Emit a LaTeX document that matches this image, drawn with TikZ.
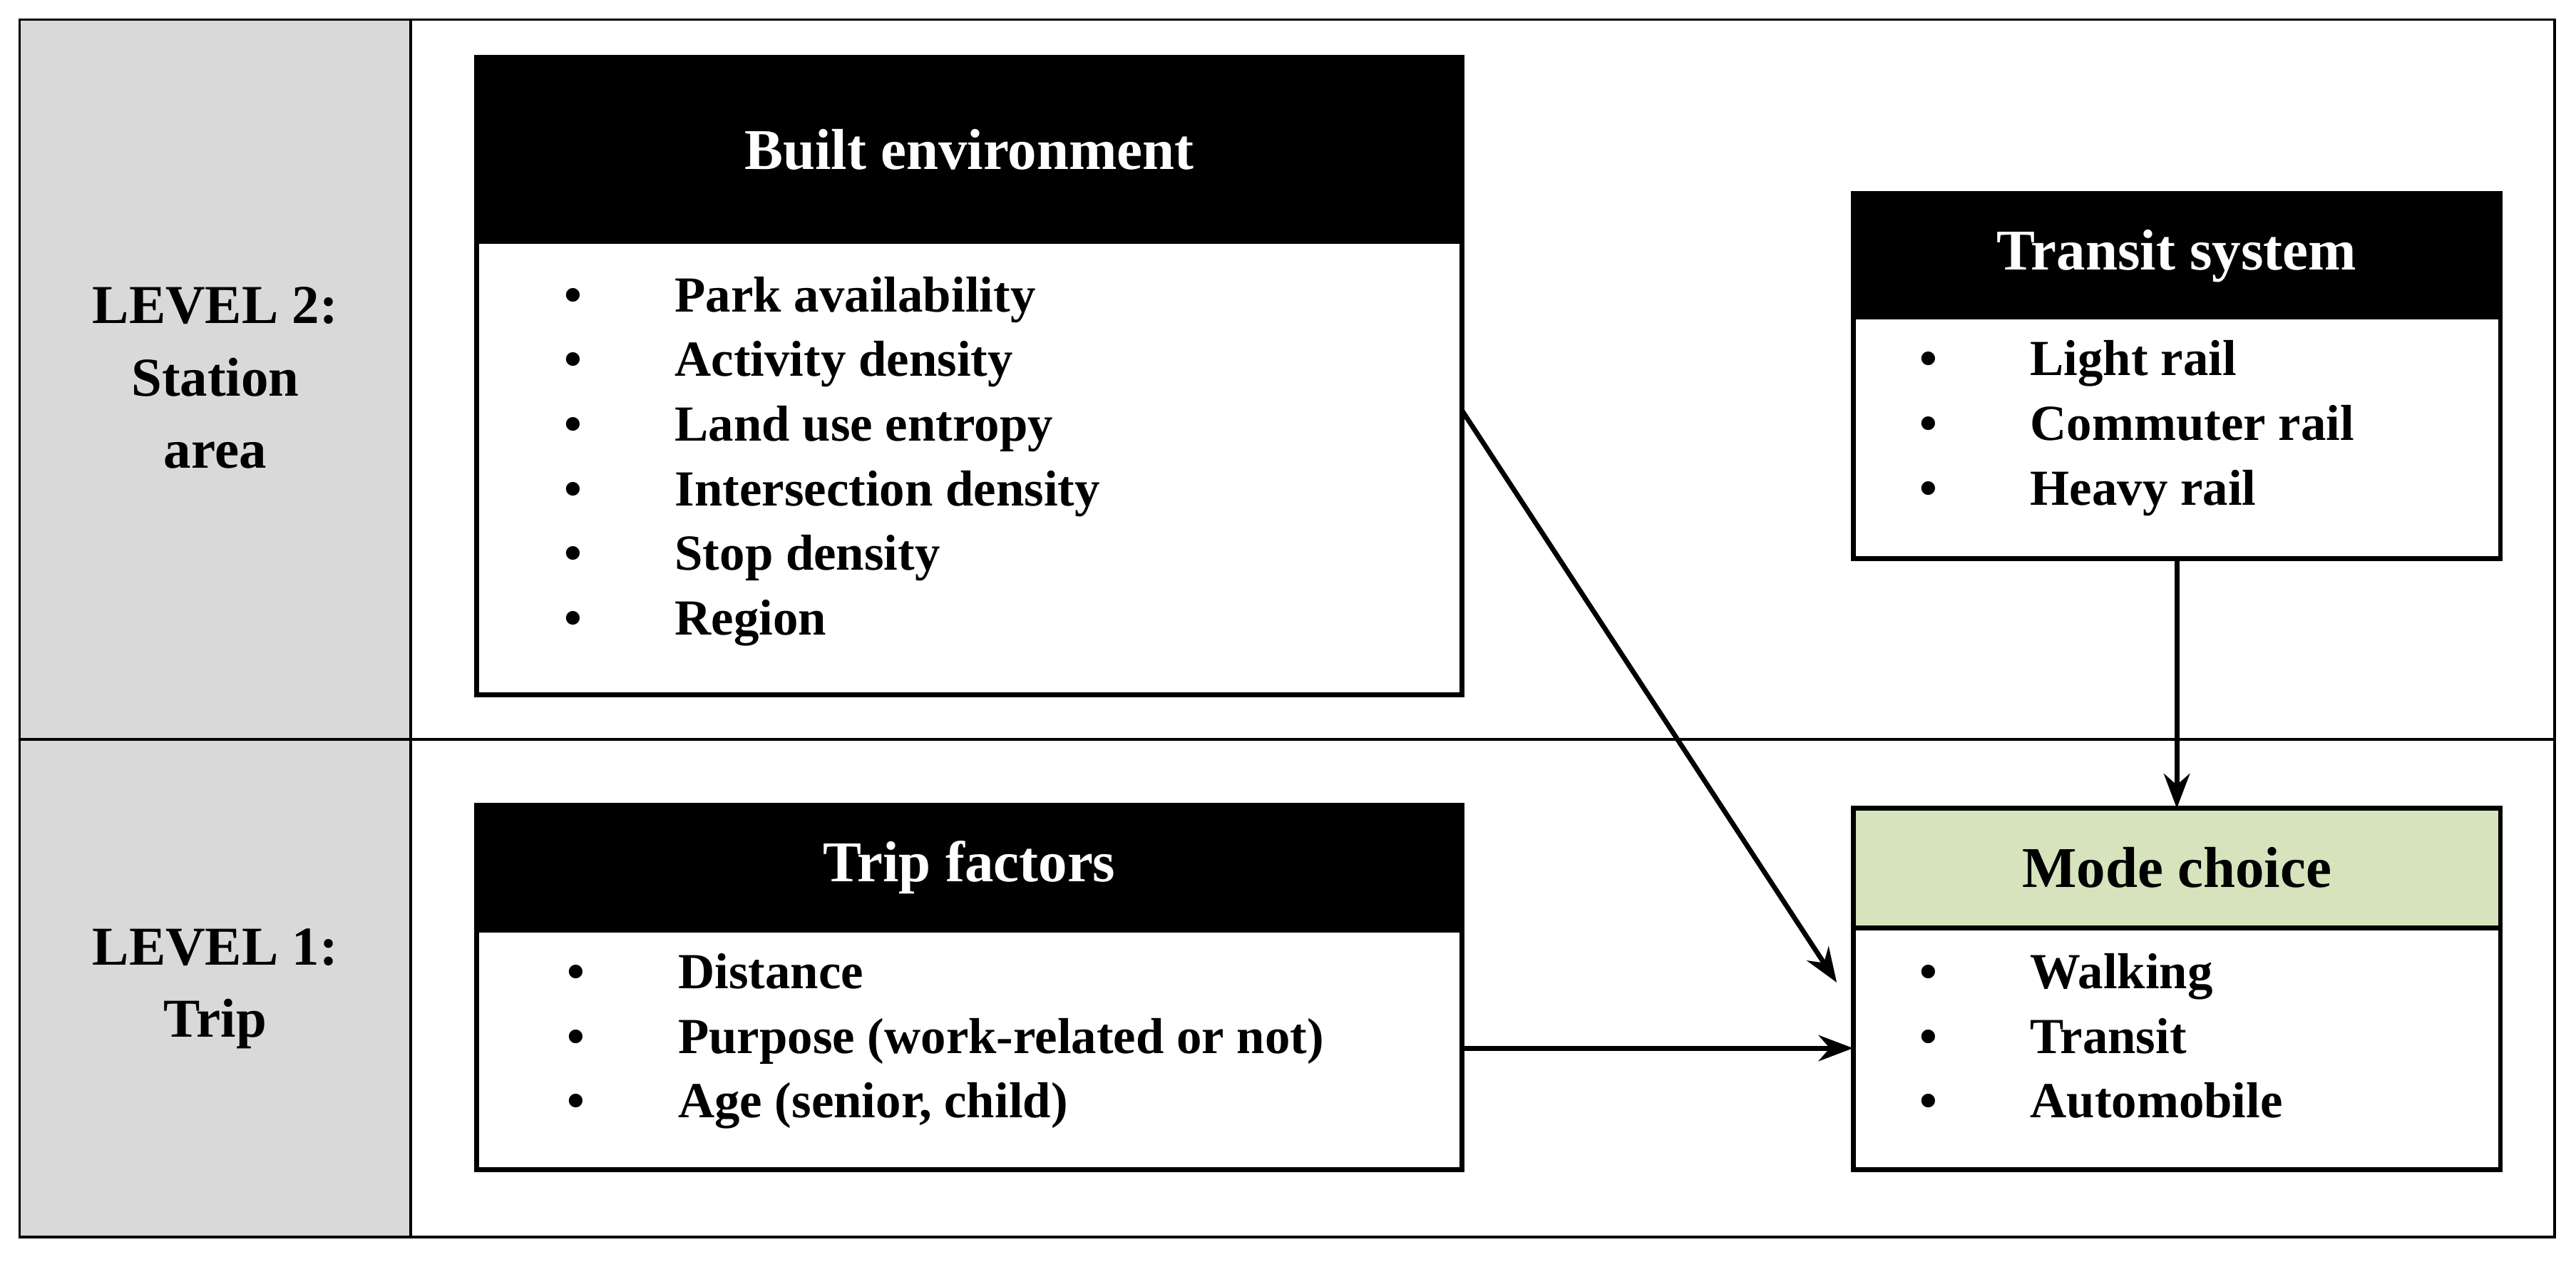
\documentclass[tikz,border=0pt]{standalone}
\usepackage{fontspec}
\setmainfont{Liberation Serif}
\usetikzlibrary{positioning,arrows.meta}
\definecolor{levelgray}{RGB}{217,217,217}
\definecolor{modegreen}{RGB}{214,227,188}
\tikzset{
	head/.style={draw=black,fill=black,text=white,line width=1.7pt,font=\fontsize{20}{24}\selectfont\bfseries},
	body/.style={draw=black,fill=white,line width=1.7pt},
	items/.style={anchor=north west,align=left,inner sep=0pt,font=\fontsize{17.5}{22.4}\selectfont\bfseries},
	level/.style={align=center,font=\fontsize{19}{25}\selectfont\bfseries},
	link/.style={-{Stealth[length=12pt,width=9pt]},line width=1.7pt}
}
\newcommand{\itm}{\makebox[1.35cm][l]{\textbullet}}
\begin{document}
\begin{tikzpicture}[x=0.02cm,y=-0.02cm]
	\useasboundingbox (0,0) rectangle (1568,768);
	% frame and levels
	\fill[levelgray] (12,12) rectangle (250,753);
	\draw[line width=0.8pt] (12,12) rectangle (1555,753);
	\draw[line width=0.8pt] (250,12) -- (250,753);
	\draw[line width=0.8pt] (12,450) -- (1555,450);
	\node[level] (lvltwo) at (131,230) {LEVEL 2:\\Station\\area};
	\node[level] (lvlone) at (131,602) {LEVEL 1:\\Trip};
	% built environment
	\draw[body] (290,147) rectangle (890,423);
	\draw[head] (290,35) rectangle (890,147);
	\node[head,draw=none] (builthead) at (590,91) {Built environment};
	\node[items] (builtlist) at (343,168) {\itm Park availability\\\itm Activity density\\\itm Land use entropy\\\itm Intersection density\\\itm Stop density\\\itm Region};
	% transit system
	\draw[body] (1128,193) rectangle (1522,340);
	\draw[head] (1128,118) rectangle (1522,193);
	\node[head,draw=none] (transhead) at (1325,156) {Transit system};
	\node[items] (translist) at (1168,207) {\itm Light rail\\\itm Commuter rail\\\itm Heavy rail};
	% trip factors
	\draw[body] (290,566) rectangle (890,712);
	\draw[head] (290,490) rectangle (890,566);
	\node[head,draw=none] (triphead) at (590,528) {Trip factors};
	\node[items] (triplist) at (345,580) {\itm Distance\\\itm Purpose (work-related or not)\\\itm Age (senior, child)};
	% mode choice
	\draw[body] (1128,565) rectangle (1522,712);
	\draw[body,fill=modegreen] (1128,492) rectangle (1522,565);
	\node[head,draw=none,fill=none,text=black] (modehead) at (1325,528) {Mode choice};
	\node[items] (modelist) at (1168,580) {\itm Walking\\\itm Transit\\\itm Automobile};
	% connectors
	\coordinate (builtout) at (890,250);
	\coordinate (modein) at (1118,598);
	\coordinate (tripout) at (890,638);
	\coordinate (modeleft) at (1128,638);
	\coordinate (transout) at (1325,340);
	\coordinate (modetop) at (1325,492);
	\draw[link] (builtout) -- (modein);
	\draw[link] (tripout) -- (modeleft);
	\draw[link] (transout) -- (modetop);
\end{tikzpicture}
\end{document}
